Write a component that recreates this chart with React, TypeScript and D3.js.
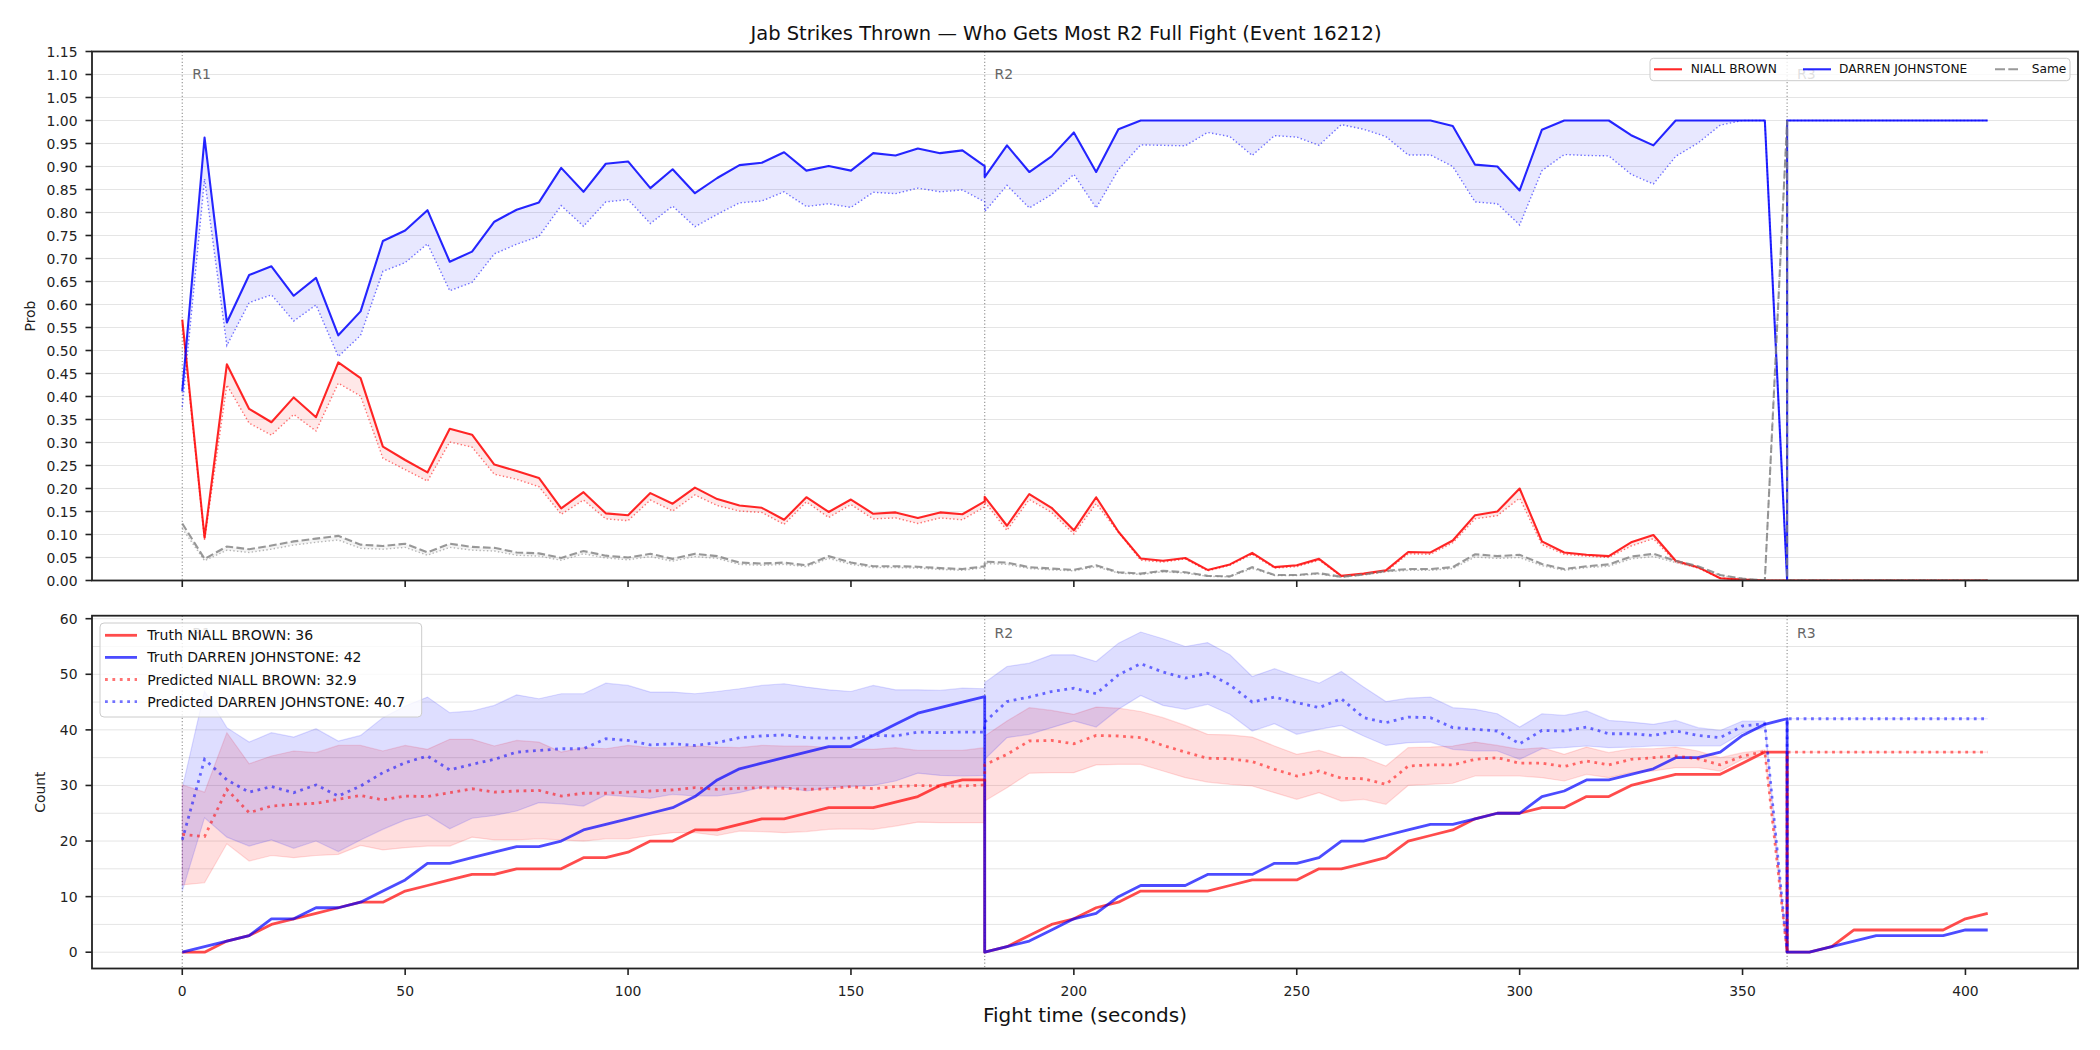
import React from 'react';
import * as d3 from 'd3';

// fight clock in seconds; 180 and 360 appear twice (last row of a round, first row of the next)
const T = [
  0, 5, 10, 15, 20, 25, 30, 35, 40, 45, 50, 55, 60, 65, 70, 75, 80, 85, 90, 95, 100, 105, 110, 115,
  120, 125, 130, 135, 140, 145, 150, 155, 160, 165, 170, 175, 180, 180, 185, 190, 195, 200, 205, 210,
  215, 220, 225, 230, 235, 240, 245, 250, 255, 260, 265, 270, 275, 280, 285, 290, 295, 300, 305, 310,
  315, 320, 325, 330, 335, 340, 345, 350, 355, 360, 360, 365, 370, 375, 380, 385, 390, 395, 400, 405,
];

const FIGHTERS = ['NIALL BROWN', 'DARREN JOHNSTONE'];
const ROUNDS = [
  { t: 0, label: 'R1' },
  { t: 180, label: 'R2' },
  { t: 360, label: 'R3' },
];

// win probabilities (solid) and their lower curve (dotted)
const probNB = [
  0.567, 0.093, 0.470, 0.373, 0.344, 0.398, 0.355, 0.474, 0.440, 0.291, 0.262, 0.235,
  0.330, 0.317, 0.252, 0.238, 0.223, 0.157, 0.192, 0.146, 0.142, 0.190, 0.167, 0.202,
  0.177, 0.163, 0.158, 0.132, 0.181, 0.149, 0.176, 0.145, 0.148, 0.136, 0.148, 0.144,
  0.172, 0.182,
  0.119, 0.188, 0.158, 0.109, 0.181, 0.106, 0.048, 0.043, 0.049, 0.023, 0.035, 0.060,
  0.029, 0.033, 0.047, 0.010, 0.015, 0.022, 0.062, 0.061, 0.087, 0.142, 0.150, 0.200,
  0.085, 0.061, 0.056, 0.053, 0.083, 0.099, 0.043, 0.029, 0.005, 0.002, 0.000,
  0, 0,
  0, 0, 0, 0, 0, 0, 0, 0, 0,
];
const probNBLow = [
  0.555, 0.088, 0.425, 0.342, 0.316, 0.361, 0.325, 0.429, 0.401, 0.266, 0.241, 0.216,
  0.301, 0.290, 0.231, 0.220, 0.204, 0.144, 0.175, 0.134, 0.130, 0.175, 0.151, 0.186,
  0.163, 0.151, 0.148, 0.122, 0.171, 0.137, 0.165, 0.134, 0.136, 0.124, 0.136, 0.132,
  0.160, 0.171,
  0.109, 0.176, 0.148, 0.101, 0.167, 0.105, 0.044, 0.040, 0.047, 0.021, 0.033, 0.057,
  0.027, 0.030, 0.044, 0.009, 0.013, 0.019, 0.058, 0.057, 0.082, 0.134, 0.141, 0.179,
  0.078, 0.057, 0.053, 0.050, 0.075, 0.091, 0.040, 0.027, 0.005, 0.002, 0.000,
  0, 0,
  0, 0, 0, 0, 0, 0, 0, 0, 0,
];
const probDJ = [
  0.411, 0.963, 0.561, 0.664, 0.683, 0.619, 0.658, 0.533, 0.585, 0.738, 0.761, 0.805,
  0.693, 0.715, 0.780, 0.806, 0.822, 0.897, 0.845, 0.906, 0.911, 0.853, 0.894, 0.842,
  0.875, 0.903, 0.908, 0.931, 0.891, 0.901, 0.891, 0.929, 0.924, 0.939, 0.929, 0.935,
  0.901, 0.877,
  0.946, 0.888, 0.922, 0.974, 0.888, 0.981, 1, 1, 1, 1, 1, 1,
  1, 1, 1, 1, 1, 1, 1, 1, 0.988, 0.904, 0.900, 0.848,
  0.980, 1, 1, 1, 0.968, 0.946, 1, 1, 1, 1, 1,
  0, 1,
  1, 1, 1, 1, 1, 1, 1, 1, 1,
];
const probDJLow = [
  0.377, 0.873, 0.511, 0.604, 0.621, 0.564, 0.599, 0.487, 0.533, 0.672, 0.691, 0.732,
  0.630, 0.648, 0.710, 0.731, 0.748, 0.815, 0.770, 0.823, 0.828, 0.776, 0.814, 0.769,
  0.796, 0.821, 0.825, 0.845, 0.813, 0.819, 0.811, 0.844, 0.841, 0.853, 0.845, 0.849,
  0.823, 0.802,
  0.859, 0.810, 0.839, 0.883, 0.810, 0.893, 0.947, 0.946, 0.945, 0.974, 0.965, 0.924,
  0.967, 0.964, 0.946, 0.991, 0.981, 0.965, 0.925, 0.925, 0.900, 0.823, 0.819, 0.773,
  0.891, 0.926, 0.924, 0.923, 0.883, 0.862, 0.922, 0.951, 0.990, 1, 1,
  0, 1,
  1, 1, 1, 1, 1, 1, 1, 1, 1,
];
const probSame = [
  0.124, 0.047, 0.074, 0.068, 0.076, 0.085, 0.091, 0.097, 0.078, 0.075, 0.080, 0.061,
  0.080, 0.073, 0.071, 0.061, 0.059, 0.049, 0.064, 0.054, 0.050, 0.058, 0.047, 0.058,
  0.053, 0.039, 0.037, 0.039, 0.033, 0.053, 0.039, 0.031, 0.031, 0.030, 0.027, 0.025,
  0.031, 0.041,
  0.039, 0.029, 0.026, 0.023, 0.033, 0.018, 0.015, 0.021, 0.018, 0.010, 0.009, 0.029,
  0.012, 0.012, 0.016, 0.008, 0.013, 0.021, 0.025, 0.025, 0.029, 0.057, 0.053, 0.056,
  0.036, 0.025, 0.031, 0.035, 0.052, 0.058, 0.043, 0.031, 0.012, 0.004, 0.000,
  1, 0,
  0, 0, 0, 0, 0, 0, 0, 0, 0,
];
const probSameLow = [
  0.113, 0.043, 0.066, 0.061, 0.068, 0.077, 0.083, 0.088, 0.070, 0.068, 0.072, 0.055,
  0.072, 0.066, 0.064, 0.055, 0.053, 0.044, 0.058, 0.049, 0.045, 0.052, 0.042, 0.052,
  0.048, 0.035, 0.033, 0.035, 0.030, 0.048, 0.035, 0.028, 0.028, 0.027, 0.024, 0.022,
  0.028, 0.037,
  0.035, 0.026, 0.023, 0.021, 0.030, 0.016, 0.013, 0.019, 0.016, 0.009, 0.008, 0.026,
  0.011, 0.011, 0.014, 0.007, 0.012, 0.019, 0.022, 0.022, 0.026, 0.051, 0.048, 0.050,
  0.032, 0.022, 0.028, 0.031, 0.047, 0.052, 0.039, 0.028, 0.011, 0.004, 0.000,
  1, 0,
  0, 0, 0, 0, 0, 0, 0, 0, 0,
];

// jab counts: truth and predicted with interval band
const truthNB = [
  0, 0, 2, 3, 5, 6, 7, 8, 9, 9, 11, 12,
  13, 14, 14, 15, 15, 15, 17, 17, 18, 20, 20, 22,
  22, 23, 24, 24, 25, 26, 26, 26, 27, 28, 30, 31,
  31, 0,
  1, 3, 5, 6, 8, 9, 11, 11, 11, 11, 12, 13,
  13, 13, 15, 15, 16, 17, 20, 21, 22, 24, 25, 25,
  26, 26, 28, 28, 30, 31, 32, 32, 32, 34, 36,
  36, 0,
  0, 1, 4, 4, 4, 4, 4, 6, 7,
];
const truthDJ = [
  0, 1, 2, 3, 6, 6, 8, 8, 9, 11, 13, 16,
  16, 17, 18, 19, 19, 20, 22, 23, 24, 25, 26, 28,
  31, 33, 34, 35, 36, 37, 37, 39, 41, 43, 44, 45,
  46, 0,
  1, 2, 4, 6, 7, 10, 12, 12, 12, 14, 14, 14,
  16, 16, 17, 20, 20, 21, 22, 23, 23, 24, 25, 25,
  28, 29, 31, 31, 32, 33, 35, 35, 36, 39, 41,
  42, 0,
  0, 1, 2, 3, 3, 3, 3, 4, 4,
];
const predNB = [
  21.2, 20.8, 29.3, 25.1, 26.3, 26.6, 26.8, 27.5, 28.2, 27.4, 28.1, 28.0,
  28.7, 29.4, 28.8, 29.0, 29.1, 28.1, 28.6, 28.6, 28.8, 29.0, 29.2, 29.6,
  29.3, 29.5, 29.6, 29.5, 29.3, 29.4, 29.8, 29.4, 29.8, 30.0, 29.9, 29.9,
  30.1, 33.7,
  35.6, 38.0, 38.1, 37.5, 39.0, 38.9, 38.6, 37.2, 36.0, 34.9, 34.8, 34.3,
  32.9, 31.7, 32.6, 31.3, 31.2, 30.2, 33.5, 33.7, 33.7, 34.7, 35.0, 34.0,
  34.0, 33.4, 34.4, 33.7, 34.7, 35.0, 35.3, 34.8, 33.7, 35.3, 36.1,
  0, 36,
  36, 36, 36, 36, 36, 36, 36, 36, 36,
];
const predDJ = [
  20.2, 34.7, 31.0, 28.8, 29.8, 28.7, 30.1, 28.1, 29.9, 32.3, 34.1, 35.3,
  32.8, 33.8, 34.7, 36.0, 36.3, 36.6, 36.6, 38.4, 38.1, 37.3, 37.5, 37.2,
  37.7, 38.6, 38.9, 39.1, 38.6, 38.5, 38.5, 39.0, 38.9, 39.6, 39.5, 39.6,
  39.6, 41.4,
  45.1, 45.9, 46.9, 47.5, 46.5, 49.9, 51.9, 50.4, 49.3, 50.2, 48.1, 45.0,
  45.9, 44.9, 44.0, 45.6, 42.2, 41.3, 42.3, 42.2, 40.4, 40.1, 39.8, 37.5,
  39.9, 39.8, 40.5, 39.3, 39.3, 39.0, 39.8, 39.0, 38.6, 40.7, 41.1,
  0, 42,
  42, 42, 42, 42, 42, 42, 42, 42, 42,
];
const lowNB = [
  12.1, 12.5, 19.5, 16.4, 17.4, 17.0, 17.4, 17.6, 19.2, 18.4, 18.8, 19.1,
  19.1, 20.7, 20.2, 20.2, 20.4, 20.2, 20.0, 20.4, 20.4, 21.0, 21.5, 21.5,
  21.0, 21.8, 21.7, 21.5, 21.7, 22.1, 22.2, 22.1, 22.7, 23.4, 23.3, 23.3,
  23.3, 27.2,
  29.6, 32.2, 32.3, 32.3, 33.7, 33.8, 33.8, 32.6, 31.4, 30.6, 30.2, 29.9,
  28.7, 27.5, 28.7, 27.2, 27.5, 26.6, 30.0, 30.2, 30.4, 31.7, 31.7, 31.7,
  31.4, 30.8, 32.0, 31.4, 32.3, 32.6, 33.2, 33.2, 32.6, 34.7, 35.7,
  0, 36,
  36, 36, 36, 36, 36, 36, 36, 36, 36,
];
const highNB = [
  30.1, 28.8, 39.5, 33.9, 35.3, 36.2, 35.9, 37.2, 37.2, 36.2, 37.2, 36.5,
  38.3, 38.3, 37.1, 38.1, 37.8, 36.0, 36.8, 36.6, 37.2, 36.8, 36.8, 37.1,
  36.9, 36.8, 37.2, 37.1, 37.1, 36.8, 36.6, 36.5, 36.8, 36.3, 36.3, 36.3,
  36.8, 38.9,
  41.6, 44.0, 43.5, 42.8, 44.1, 43.9, 43.3, 42.2, 40.8, 39.2, 39.1, 38.7,
  37.1, 35.6, 36.3, 35.1, 35.0, 33.5, 36.8, 36.9, 37.1, 37.8, 37.2, 36.5,
  36.8, 35.6, 36.9, 35.9, 36.6, 36.6, 36.9, 36.2, 35.0, 35.9, 36.4,
  0, 36,
  36, 36, 36, 36, 36, 36, 36, 36, 36,
];
const lowDJ = [
  11.0, 24.2, 20.7, 19.1, 20.2, 18.7, 20.0, 18.1, 20.2, 22.1, 23.8, 24.7,
  22.2, 24.1, 24.6, 25.4, 26.9, 26.7, 26.3, 28.3, 28.0, 27.7, 28.4, 28.1,
  28.1, 28.7, 29.7, 29.7, 29.0, 29.6, 29.8, 30.0, 30.8, 32.2, 31.8, 31.7,
  31.8, 34.7,
  38.6, 39.2, 40.4, 41.6, 40.5, 43.7, 46.2, 44.4, 43.7, 44.6, 42.8, 39.8,
  41.1, 39.2, 40.1, 40.8, 38.9, 37.2, 37.7, 37.8, 36.5, 36.2, 36.2, 34.7,
  36.6, 36.8, 37.1, 36.8, 36.9, 37.1, 37.1, 37.1, 37.1, 39.5, 40.4,
  0, 42,
  42, 42, 42, 42, 42, 42, 42, 42, 42,
];
const highDJ = [
  29.5, 47.0, 40.4, 37.8, 39.5, 38.7, 40.2, 38.0, 39.0, 42.2, 44.3, 45.9,
  43.1, 43.4, 44.4, 46.3, 45.6, 46.5, 46.5, 48.4, 48.0, 46.8, 46.8, 46.5,
  46.9, 47.4, 48.0, 48.3, 47.7, 47.2, 46.9, 48.0, 47.2, 47.2, 47.1, 47.5,
  47.4, 48.5,
  51.4, 52.0, 53.5, 53.5, 52.3, 55.6, 57.6, 56.4, 55.0, 55.7, 53.5, 49.6,
  51.0, 49.6, 48.4, 50.5, 47.7, 45.1, 45.7, 45.9, 44.0, 43.7, 42.9, 40.5,
  42.9, 42.6, 43.4, 41.7, 41.4, 41.0, 41.7, 40.4, 39.9, 41.6, 41.6,
  0, 42,
  42, 42, 42, 42, 42, 42, 42, 42, 42,
];

// totals quoted in the count legend
const truthTotals = [36, 42];
const predTotals = [32.9, 40.7];

const xTicks = [0, 50, 100, 150, 200, 250, 300, 350, 400];
const probTicks = d3.range(0, 24).map((i) => i * 0.05);
const countTicks = [0, 10, 20, 30, 40, 50, 60];
const countGrid = d3.range(0, 13).map((i) => i * 5);

const FONT = '"DejaVu Sans", sans-serif';
const RED = '#ff0000';
const BLUE = '#0000ff';
const GRAY = '#808080';
const L = 92;
const R = 2078;
const top = { y0: 51.5, y1: 580.5 };
const bot = { y0: 615.7, y1: 968.5 };

export default function App() {
  const x = d3.scaleLinear().domain([-20.25, 425.25]).range([L, R]);
  const yP = d3.scaleLinear().domain([0, 1.15]).range([top.y1, top.y0]);
  const yC = d3.scaleLinear().domain([-2.93, 60.54]).range([bot.y1, bot.y0]);

  const lineOf = (y: d3.ScaleLinear<number, number>) =>
    d3.line<number>().x((_, i) => x(T[i])).y((d) => y(d));
  const bandOf = (y: d3.ScaleLinear<number, number>, lo: number[]) =>
    d3
      .area<number>()
      .x((_, i) => x(T[i]))
      .y0((_, i) => y(lo[i]))
      .y1((d) => y(d));

  const lp = lineOf(yP);
  const lc = lineOf(yC);

  const roundLines = (y0: number, y1: number, labelY: number) =>
    ROUNDS.map((r) => (
      <g key={r.label}>
        <line
          x1={x(r.t)}
          x2={x(r.t)}
          y1={y0}
          y2={y1}
          stroke={GRAY}
          strokeOpacity={0.8}
          strokeWidth={1.2}
          strokeDasharray="1.2 2.2"
        />
        <text x={x(r.t + 2) + 1} y={labelY} fontSize={14} fill="#666">
          {r.label}
        </text>
      </g>
    ));

  const frame = (y0: number, y1: number) => (
    <rect x={L} y={y0} width={R - L} height={y1 - y0} fill="none" stroke="#222" strokeWidth={1.8} />
  );

  const xTickMarks = (yb: number, labels: boolean) =>
    xTicks.map((t) => (
      <g key={t}>
        <line x1={x(t)} x2={x(t)} y1={yb} y2={yb + 6.5} stroke="#222" strokeWidth={1.6} />
        {labels && (
          <text x={x(t)} y={yb + 27} fontSize={13.9} textAnchor="middle" fill="#222">
            {t}
          </text>
        )}
      </g>
    ));

  return (
    <svg
      width={2100}
      height={1050}
      style={{ position: 'absolute', left: 0, top: 0, background: '#fff' }}
      fontFamily={FONT}
    >
      <defs>
        <clipPath id="clipTop">
          <rect x={L} y={top.y0} width={R - L} height={top.y1 - top.y0} />
        </clipPath>
        <clipPath id="clipBot">
          <rect x={L} y={bot.y0} width={R - L} height={bot.y1 - bot.y0} />
        </clipPath>
      </defs>
      <rect width={2100} height={1050} fill="#fff" />

      <text x={1066} y={40} fontSize={19.5} textAnchor="middle" fill="#111">
        Jab Strikes Thrown — Who Gets Most R2 Full Fight (Event 16212)
      </text>

      {/* probability panel */}
      {probTicks.map((p) => (
        <line key={p} x1={L} x2={R} y1={yP(p)} y2={yP(p)} stroke="#e5e5e5" strokeWidth={1} />
      ))}
      <g clipPath="url(#clipTop)">
        {roundLines(top.y0, top.y1, top.y0 + 27)}
        <path d={bandOf(yP, probNBLow)(probNB) ?? ''} fill={RED} fillOpacity={0.09} />
        <path d={bandOf(yP, probDJLow)(probDJ) ?? ''} fill={BLUE} fillOpacity={0.09} />
        <path d={bandOf(yP, probSameLow)(probSame) ?? ''} fill={GRAY} fillOpacity={0.09} />
        <path d={lp(probNBLow) ?? ''} fill="none" stroke={RED} strokeOpacity={0.55} strokeWidth={1.4} strokeDasharray="1.4 2.3" />
        <path d={lp(probDJLow) ?? ''} fill="none" stroke={BLUE} strokeOpacity={0.55} strokeWidth={1.4} strokeDasharray="1.4 2.3" />
        <path d={lp(probSameLow) ?? ''} fill="none" stroke={GRAY} strokeOpacity={0.55} strokeWidth={1.4} strokeDasharray="1.4 2.3" />
        <path d={lp(probNB) ?? ''} fill="none" stroke={RED} strokeOpacity={0.85} strokeWidth={2.1} strokeLinejoin="round" />
        <path d={lp(probDJ) ?? ''} fill="none" stroke={BLUE} strokeOpacity={0.85} strokeWidth={2.1} strokeLinejoin="round" />
        <path d={lp(probSame) ?? ''} fill="none" stroke={GRAY} strokeOpacity={0.8} strokeWidth={2.1} strokeDasharray="7.7 3.3" />
      </g>
      {probTicks.map((p) => (
        <g key={p}>
          <line x1={L - 6.5} x2={L} y1={yP(p)} y2={yP(p)} stroke="#222" strokeWidth={1.6} />
          <text x={L - 14.5} y={yP(p)} fontSize={13.9} textAnchor="end" dominantBaseline="central" fill="#222">
            {p.toFixed(2)}
          </text>
        </g>
      ))}
      {xTickMarks(top.y1, false)}
      <text transform={`translate(34.5, ${(top.y0 + top.y1) / 2}) rotate(-90)`} fontSize={13.9} textAnchor="middle" fill="#222">
        Prob
      </text>
      {frame(top.y0, top.y1)}

      {/* horizontal legend for the probability panel */}
      <g>
        <rect x={1650} y={58.3} width={420} height={22.4} rx={3.5} fill="#fff" fillOpacity={0.8} stroke="#ccc" strokeWidth={1} />
        <line x1={1654} x2={1682} y1={69.3} y2={69.3} stroke={RED} strokeOpacity={0.85} strokeWidth={2.1} />
        <text x={1690.7} y={69.3} fontSize={12.2} dominantBaseline="central" fill="#111">
          {FIGHTERS[0]}
        </text>
        <line x1={1803} x2={1831} y1={69.3} y2={69.3} stroke={BLUE} strokeOpacity={0.85} strokeWidth={2.1} />
        <text x={1839} y={69.3} fontSize={12.2} dominantBaseline="central" fill="#111">
          {FIGHTERS[1]}
        </text>
        <line x1={1995} x2={2018} y1={69.3} y2={69.3} stroke={GRAY} strokeOpacity={0.8} strokeWidth={2.1} strokeDasharray="10 3.3" />
        <text x={2031.7} y={69.3} fontSize={12.2} dominantBaseline="central" fill="#111">
          Same
        </text>
      </g>

      {/* count panel */}
      {countGrid.map((c) => (
        <line key={c} x1={L} x2={R} y1={yC(c)} y2={yC(c)} stroke="#e5e5e5" strokeWidth={1} />
      ))}
      <g clipPath="url(#clipBot)">
        {roundLines(bot.y0, bot.y1, bot.y0 + 22.5)}
        <path d={bandOf(yC, lowNB)(highNB) ?? ''} fill={RED} fillOpacity={0.13} stroke={RED} strokeOpacity={0.13} strokeWidth={1.2} />
        <path d={bandOf(yC, lowDJ)(highDJ) ?? ''} fill={BLUE} fillOpacity={0.13} stroke={BLUE} strokeOpacity={0.13} strokeWidth={1.2} />
        <path d={lc(truthNB) ?? ''} fill="none" stroke={RED} strokeOpacity={0.7} strokeWidth={2.8} strokeLinejoin="round" />
        <path d={lc(truthDJ) ?? ''} fill="none" stroke={BLUE} strokeOpacity={0.7} strokeWidth={2.8} strokeLinejoin="round" />
        <path d={lc(predNB) ?? ''} fill="none" stroke={RED} strokeOpacity={0.55} strokeWidth={2.8} strokeDasharray="2.8 4.6" />
        <path d={lc(predDJ) ?? ''} fill="none" stroke={BLUE} strokeOpacity={0.55} strokeWidth={2.8} strokeDasharray="2.8 4.6" />
      </g>
      {countTicks.map((c) => (
        <g key={c}>
          <line x1={L - 6.5} x2={L} y1={yC(c)} y2={yC(c)} stroke="#222" strokeWidth={1.6} />
          <text x={L - 14.5} y={yC(c)} fontSize={13.9} textAnchor="end" dominantBaseline="central" fill="#222">
            {c}
          </text>
        </g>
      ))}
      {xTickMarks(bot.y1, true)}
      <text transform={`translate(45, ${(bot.y0 + bot.y1) / 2}) rotate(-90)`} fontSize={13.9} textAnchor="middle" fill="#222">
        Count
      </text>
      <text x={(L + R) / 2} y={1022} fontSize={20} textAnchor="middle" fill="#111">
        Fight time (seconds)
      </text>
      {frame(bot.y0, bot.y1)}

      {/* count legend */}
      <g>
        <rect x={100} y={623} width={321.7} height={94} rx={4} fill="#fff" fillOpacity={0.8} stroke="#ccc" strokeWidth={1} />
        {[
          { label: `Truth ${FIGHTERS[0]}: ${truthTotals[0]}`, color: RED, dotted: false },
          { label: `Truth ${FIGHTERS[1]}: ${truthTotals[1]}`, color: BLUE, dotted: false },
          { label: `Predicted ${FIGHTERS[0]}: ${predTotals[0]}`, color: RED, dotted: true },
          { label: `Predicted ${FIGHTERS[1]}: ${predTotals[1]}`, color: BLUE, dotted: true },
        ].map((e, i) => {
          const y = 635.3 + i * 22.1;
          return (
            <g key={e.label}>
              <line
                x1={105}
                x2={137}
                y1={y}
                y2={y}
                stroke={e.color}
                strokeOpacity={e.dotted ? 0.55 : 0.7}
                strokeWidth={2.8}
                strokeDasharray={e.dotted ? '2.8 4.6' : undefined}
              />
              <text x={147.3} y={y} fontSize={14} dominantBaseline="central" fill="#111">
                {e.label}
              </text>
            </g>
          );
        })}
      </g>
    </svg>
  );
}
